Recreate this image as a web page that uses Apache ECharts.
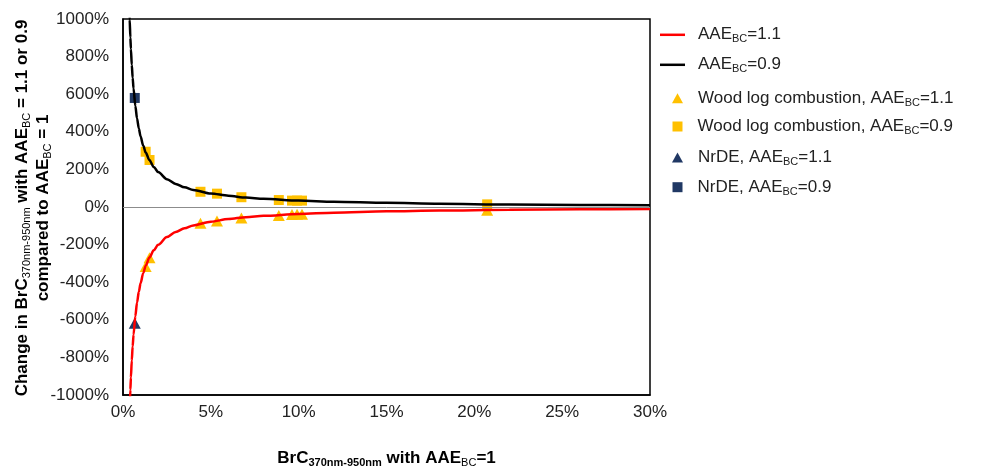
<!DOCTYPE html>
<html><head><meta charset="utf-8">
<script src="https://cdn.jsdelivr.net/npm/echarts@6/dist/echarts.min.js"></script>
<style>html,body{margin:0;padding:0;background:#fff}#c{width:990px;height:468px}</style>
</head><body><div id="c"></div>
<script>
// Curve readings (x in %, y in %)
const curveX  = [0.36,0.38,0.42,0.45,0.5,0.55,0.6,0.7,0.8,0.9,1.0,1.15,1.3,1.5,1.75,2,2.5,3,3.5,4,5,6,7,8,10,12,15,18,22,26,30];
const curve09 = [1052,996,901,841,756,687,630,539,471,418,376,327,288,250,213,186,148,123,105,91,72,60,50,44,34,28,22,17,13,11,9];
const curve11 = [-1135,-1075,-972,-907,-816,-741,-679,-582,-508,-451,-406,-352,-311,-269,-230,-201,-160,-133,-113,-98,-78,-64,-54,-47,-37,-30,-23,-19,-15,-12,-10];
// Wood log combustion points
const woodX  = [1.29,1.51,4.41,5.35,6.74,8.87,9.62,9.91,10.19,20.73];
const wood09 = [294,250,81,71,52,37,34,34,34,14];
const wood11 = [-317,-270,-87,-75,-59,-45,-40,-39,-38,-17];
// NrDE points
const nrdeX  = [0.67];
const nrde09 = [580];
const nrde11 = [-619];

const FONT = "'Liberation Sans', Arial, sans-serif";
const TXT = '#222';
const zip = (xs, ys) => xs.map((x, i) => [x, ys[i]]);

const legRich = {
  n: {fontSize: 17, lineHeight: 20, fontFamily: FONT, color: TXT},
  s: {fontSize: 11, lineHeight: 11, verticalAlign: 'bottom', fontFamily: FONT, color: TXT}
};
const legLabels = {
  'AAE_BC=1.1': '{n|AAE}{s|BC}{n|=1.1}',
  'AAE_BC=0.9': '{n|AAE}{s|BC}{n|=0.9}',
  'Wood log combustion, AAE_BC=1.1': '{n|Wood log combustion, AAE}{s|BC}{n|=1.1}',
  'Wood log combustion, AAE_BC=0.9': '{n|Wood log combustion, AAE}{s|BC}{n|=0.9}',
  'NrDE, AAE_BC=1.1': '{n|NrDE, AAE}{s|BC}{n|=1.1}',
  'NrDE, AAE_BC=0.9': '{n|NrDE, AAE}{s|BC}{n|=0.9}'
};
function leg(name, left, cy, w, h, pad, icon) {
  const item = icon ? {name: name, icon: icon} : name;
  return {
    data: [item], left: left, top: cy - 8, padding: 0,
    itemWidth: w, itemHeight: h, selectedMode: false,
    formatter: n => legLabels[n],
    textStyle: {fontSize: 17, fontFamily: FONT, color: TXT, padding: [0, 0, 0, pad], rich: legRich}
  };
}

const tRich = {
  b: {fontSize: 17, fontWeight: 'bold', lineHeight: 20, fontFamily: FONT, color: TXT},
  sb: {fontSize: 11, fontWeight: 'bold', lineHeight: 11, verticalAlign: 'bottom', fontFamily: FONT, color: TXT},
  sn: {fontSize: 11, lineHeight: 11, verticalAlign: 'bottom', fontFamily: FONT, color: TXT}
};

const chart = echarts.init(document.getElementById('c'), null, {renderer: 'canvas'});
chart.setOption({
  animation: false,
  backgroundColor: '#fff',
  grid: {left: 123, right: 340, top: 19, bottom: 73, show: true, borderColor: '#000', borderWidth: 1.5, backgroundColor: 'transparent'},
  xAxis: {
    type: 'value', min: 0, max: 30, interval: 5,
    axisLine: {onZero: false, lineStyle: {color: '#000', width: 1.5}},
    axisTick: {show: false}, splitLine: {show: false},
    axisLabel: {formatter: v => v + '%', fontSize: 17, fontFamily: FONT, color: TXT, margin: 9}
  },
  yAxis: {
    type: 'value', min: -1000, max: 1000, interval: 200,
    axisLine: {show: true, lineStyle: {color: '#000', width: 1.5}},
    axisTick: {show: false}, splitLine: {show: false},
    axisLabel: {formatter: v => v + '%', fontSize: 17, fontFamily: FONT, color: TXT, margin: 14}
  },
  legend: [
    leg('AAE_BC=1.1', 660, 34.3, 25, 2.5, 8, 'rect'),
    leg('AAE_BC=0.9', 660, 64.3, 25, 2.5, 8, 'rect'),
    leg('Wood log combustion, AAE_BC=1.1', 672, 97.7, 11, 10, 10),
    leg('Wood log combustion, AAE_BC=0.9', 672.5, 126, 10, 10, 10),
    leg('NrDE, AAE_BC=1.1', 672, 157, 11, 10, 10),
    leg('NrDE, AAE_BC=0.9', 672.5, 186.7, 10, 10, 10)
  ],
  graphic: [
    {type: 'text', x: 22, y: 208, rotation: Math.PI / 2,
      style: {text: '{b|Change in BrC}{sn|370nm-950nm}{b| with AAE}{sn|BC}{b| = 1.1 or 0.9}', rich: tRich, align: 'center', verticalAlign: 'middle'}},
    {type: 'text', x: 43, y: 208, rotation: Math.PI / 2,
      style: {text: '{b|compared to AAE}{sn|BC}{b| = 1}', rich: tRich, align: 'center', verticalAlign: 'middle'}},
    {type: 'text', x: 386.5, y: 458,
      style: {text: '{b|BrC}{sb|370nm-950nm}{b| with AAE}{sn|BC}{b|=1}', rich: tRich, align: 'center', verticalAlign: 'middle'}}
  ],
  series: [
    {name: 'AAE_BC=1.1', type: 'line', data: zip(curveX, curve11), symbol: 'none', smooth: 0.3, smoothMonotone: 'x',
      lineStyle: {color: '#ff0000', width: 2.5}, itemStyle: {color: '#ff0000'}, clip: true,
      markLine: {silent: true, symbol: 'none', label: {show: false}, lineStyle: {color: '#8c8c8c', width: 1, type: 'solid'}, data: [{yAxis: 0}]}},
    {name: 'AAE_BC=0.9', type: 'line', data: zip(curveX, curve09), symbol: 'none', smooth: 0.3, smoothMonotone: 'x',
      lineStyle: {color: '#000', width: 2.5}, itemStyle: {color: '#000'}, clip: true},
    {name: 'Wood log combustion, AAE_BC=1.1', type: 'scatter', data: zip(woodX, wood11), symbol: 'triangle', symbolSize: [12, 11],
      itemStyle: {color: '#ffc000', opacity: 1}},
    {name: 'Wood log combustion, AAE_BC=0.9', type: 'scatter', data: zip(woodX, wood09), symbol: 'rect', symbolSize: 10,
      itemStyle: {color: '#ffc000', opacity: 1}},
    {name: 'NrDE, AAE_BC=1.1', type: 'scatter', data: zip(nrdeX, nrde11), symbol: 'triangle', symbolSize: [12, 11],
      itemStyle: {color: '#203864', opacity: 1}},
    {name: 'NrDE, AAE_BC=0.9', type: 'scatter', data: zip(nrdeX, nrde09), symbol: 'rect', symbolSize: 10,
      itemStyle: {color: '#203864', opacity: 1}}
  ]
});
</script></body></html>
